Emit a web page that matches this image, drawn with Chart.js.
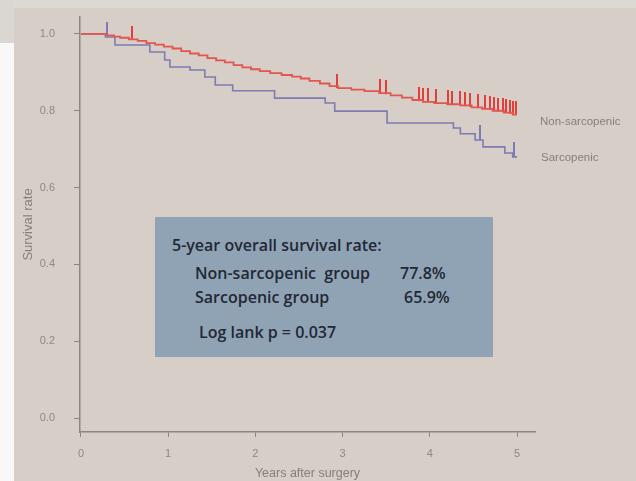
<!DOCTYPE html>
<html>
<head>
<meta charset="utf-8">
<script src="https://cdn.jsdelivr.net/npm/chart.js@4.4.1/dist/chart.umd.min.js"></script>
<style>
    html, body { margin: 0; padding: 0; }
    body {
        position: relative;
        width: 636px;
        height: 481px;
        overflow: hidden;
        background: #d7cec7;
        font-family: "Open Sans", "Noto Sans", sans-serif;
    }
    #top-band { position: absolute; left: 0; top: 0; width: 636px; height: 8px; background: #dcd8d4; }
    #left-shade { position: absolute; left: 0; top: 0; width: 14px; height: 43px; background: #dad6d2; }
    #left-strip { position: absolute; left: 0; top: 43px; width: 14px; height: 438px; background: #f8f8f8; }
    #km { position: absolute; left: 0; top: 0; }
    #stats-box {
        position: absolute;
        left: 155px;
        top: 217px;
        width: 338px;
        height: 140px;
        background: #90a3b5;
        color: #222834;
        font-size: 16px;
        font-weight: 600;
    }
    #stats-box span { position: absolute; white-space: pre; line-height: 16px; }
    .group-label {
        position: absolute;
        font-family: "Liberation Sans", sans-serif;
        font-size: 11.5px;
        color: #867f79;
        white-space: nowrap;
    }
</style>
</head>
<body>
<div id="top-band"></div>
<div id="left-shade"></div>
<div id="left-strip"></div>
<canvas id="km" width="636" height="481"></canvas>

<div id="stats-box">
    <span style="left:17px; top:20px;">5-year overall survival rate:</span>
    <span style="left:40px; top:48px;">Non-sarcopenic  group</span>
    <span style="left:245px; top:48px;">77.8%</span>
    <span style="left:40px; top:72px;">Sarcopenic group</span>
    <span style="left:249px; top:72px;">65.9%</span>
    <span style="left:44px; top:107px;">Log lank p = 0.037</span>
</div>
<div class="group-label" style="left:540px; top:115px;">Non-sarcopenic</div>
<div class="group-label" style="left:541px; top:151px;">Sarcopenic</div>

<script>
// Kaplan-Meier steps (years after surgery, survival)
const nonSarcTimes = [0, 0.30, 0.38, 0.45, 0.55, 0.65, 0.75, 0.85, 0.95, 1.05, 1.15, 1.25, 1.35, 1.45,
    1.55, 1.65, 1.75, 1.85, 1.95, 2.05, 2.17, 2.30, 2.42, 2.52, 2.62, 2.74, 2.85, 2.95, 3.10,
    3.25, 3.42, 3.55, 3.68, 3.80, 3.92, 4.05, 4.20, 4.35, 4.48, 4.60, 4.72, 4.85, 4.95, 5.00];
const nonSarcSurvival = [1.0, 0.996, 0.993, 0.990, 0.986, 0.982, 0.976, 0.972, 0.967, 0.962, 0.955, 0.949, 0.944, 0.937,
    0.931, 0.926, 0.919, 0.913, 0.908, 0.903, 0.898, 0.893, 0.889, 0.884, 0.878, 0.871, 0.864, 0.859, 0.855,
    0.851, 0.846, 0.840, 0.834, 0.828, 0.823, 0.820, 0.817, 0.814, 0.809, 0.805, 0.800, 0.795, 0.790, 0.790];

const sarcTimes = [0, 0.28, 0.39, 0.79, 0.96, 1.02, 1.25, 1.42, 1.54, 1.74, 2.22, 2.80, 2.91, 3.51,
    4.27, 4.35, 4.52, 4.61, 4.86, 4.95, 5.00];
const sarcSurvival = [1.0, 0.992, 0.971, 0.953, 0.932, 0.914, 0.906, 0.888, 0.867, 0.852, 0.833, 0.820, 0.799, 0.768,
    0.755, 0.740, 0.724, 0.706, 0.690, 0.680, 0.680];

// censored observations (tick marks)
const nonSarcCensorTimes = [0.58, 2.94, 3.43, 3.50, 3.88, 3.92, 3.98, 4.07, 4.21, 4.25, 4.35, 4.40, 4.46,
    4.55, 4.63, 4.69, 4.74, 4.78, 4.84, 4.87, 4.92, 4.95, 4.99];
const nonSarcCensorSurvival = [0.985, 0.859, 0.846, 0.843, 0.825, 0.823, 0.822, 0.820, 0.817, 0.816, 0.814, 0.812, 0.810,
    0.807, 0.804, 0.802, 0.800, 0.798, 0.796, 0.795, 0.792, 0.790, 0.790];
const sarcCensorTimes = [0.30, 4.58, 4.97];
const sarcCensorSurvival = [0.992, 0.724, 0.680];

const xTickValues = [0, 1, 2, 3, 4, 5];
const yTickValues = [0, 0.2, 0.4, 0.6, 0.8, 1.0];

const axisColor = '#8c8681';
const labelColor = '#8f8883';

function toPoints(xs, ys) {
    return xs.map((x, i) => ({ x: x, y: ys[i] }));
}

// small vertical tick image, visible half sits above the data point
function makeCensorMark(color, width, height) {
    const c = document.createElement('canvas');
    c.width = width;
    c.height = height * 2;
    const g = c.getContext('2d');
    g.fillStyle = color;
    g.fillRect(0, 0, width, height);
    return c;
}

const redMark = makeCensorMark('rgba(228, 38, 34, 0.85)', 2, 14);
const blueMark = makeCensorMark('#7d7bb4', 2, 15);

const chart = new Chart(document.getElementById('km'), {
    type: 'line',
    data: {
        datasets: [
            {
                label: 'Non-sarcopenic',
                data: toPoints(nonSarcTimes, nonSarcSurvival),
                borderColor: '#e2564f',
                borderWidth: 1.8,
                stepped: true,
                pointRadius: 0,
                fill: false
            },
            {
                label: 'Sarcopenic',
                data: toPoints(sarcTimes, sarcSurvival),
                borderColor: '#7e7cb3',
                borderWidth: 1.6,
                stepped: true,
                pointRadius: 0,
                fill: false
            },
            {
                type: 'scatter',
                label: 'Non-sarcopenic censored',
                data: toPoints(nonSarcCensorTimes, nonSarcCensorSurvival),
                pointStyle: redMark,
                pointRadius: 3,
                showLine: false
            },
            {
                type: 'scatter',
                label: 'Sarcopenic censored',
                data: toPoints(sarcCensorTimes, sarcCensorSurvival),
                pointStyle: blueMark,
                pointRadius: 3,
                showLine: false
            }
        ]
    },
    options: {
        responsive: false,
        animation: false,
        layout: {
            autoPadding: false,
            padding: { left: 0, right: 101, top: 17, bottom: 0 }
        },
        plugins: {
            legend: { display: false },
            tooltip: { enabled: false }
        },
        scales: {
            x: {
                type: 'linear',
                min: -0.011,
                max: 5.206,
                afterBuildTicks: axis => { axis.ticks = xTickValues.map(v => ({ value: v })); },
                afterFit: scale => {
                    scale.height = 49;
                    scale.paddingLeft = 0;
                    scale.paddingRight = 0;
                },
                ticks: {
                    color: labelColor,
                    font: { family: 'Liberation Sans', size: 11 },
                    padding: 10,
                    maxRotation: 0,
                    callback: value => String(value)
                },
                grid: {
                    drawOnChartArea: false,
                    drawTicks: true,
                    tickLength: 5,
                    color: axisColor
                },
                border: { display: true, color: axisColor, width: 1.5 },
                title: {
                    display: true,
                    text: 'Years after surgery',
                    color: '#857e79',
                    font: { family: 'Liberation Sans', size: 12.5 },
                    padding: { top: 0, bottom: 0 }
                }
            },
            y: {
                min: -0.036,
                max: 1.044,
                afterBuildTicks: axis => { axis.ticks = yTickValues.map(v => ({ value: v })); },
                afterFit: scale => {
                    // keep the label padding from pushing the plot area down
                    scale.width = 80;
                    scale.paddingTop = 0;
                    scale.paddingBottom = 0;
                },
                ticks: {
                    color: labelColor,
                    font: { family: 'Liberation Sans', size: 11 },
                    padding: 19,
                    callback: value => value.toFixed(1)
                },
                grid: {
                    drawOnChartArea: false,
                    drawTicks: true,
                    tickLength: 6,
                    color: axisColor
                },
                border: { display: true, color: axisColor, width: 1.5 },
                title: {
                    display: true,
                    text: 'Survival rate',
                    color: '#857e79',
                    font: { family: 'Liberation Sans', size: 13 },
                    padding: { top: 21, bottom: 0 }
                }
            }
        }
    }
});
</script>
</body>
</html>
